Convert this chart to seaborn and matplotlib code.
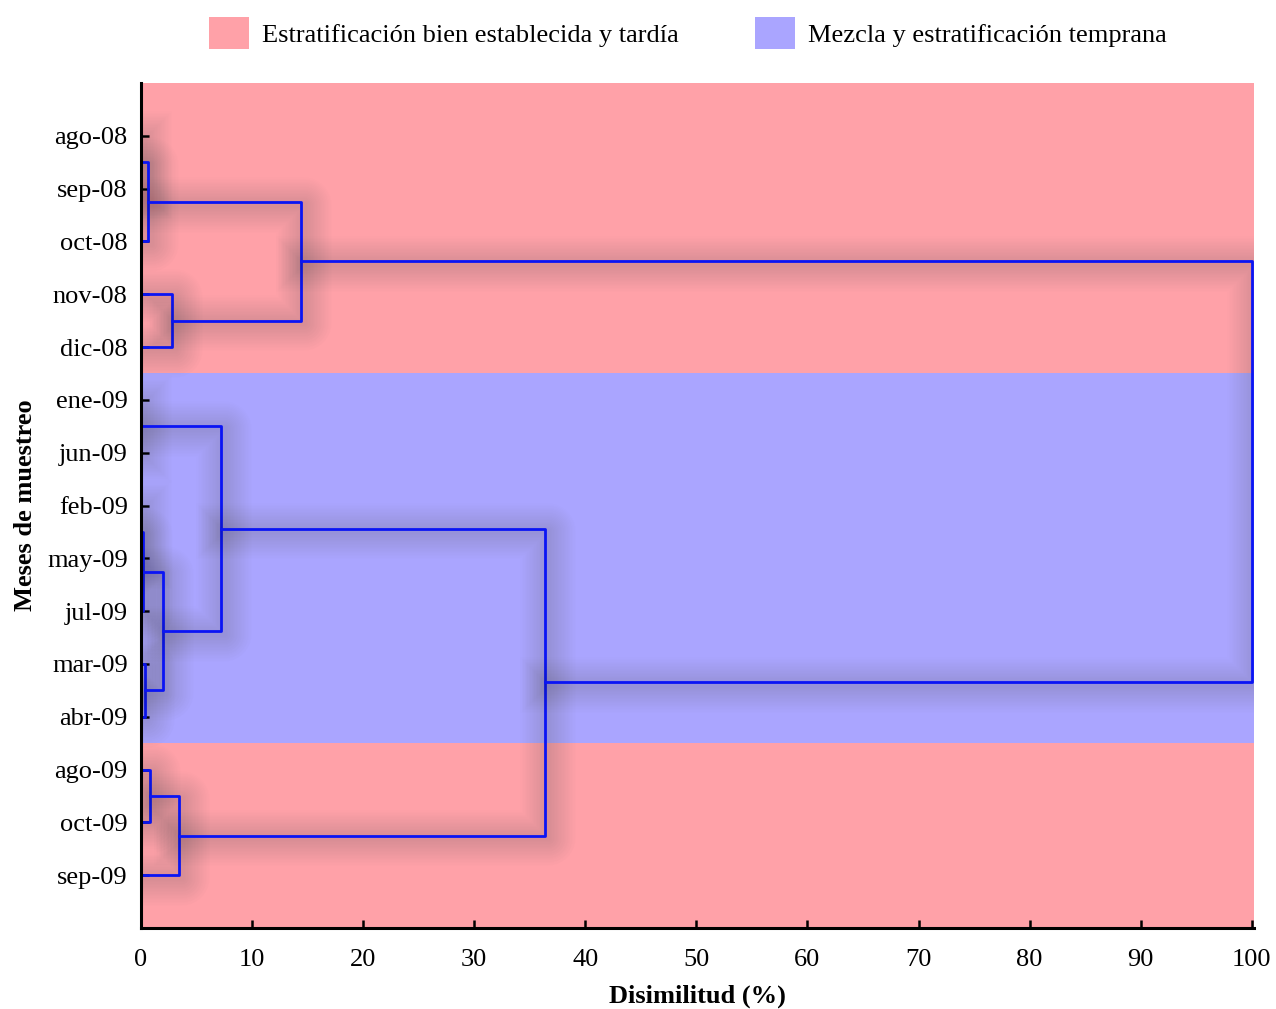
import numpy as np
import pandas as pd
import matplotlib
matplotlib.use("Agg")
import matplotlib.pyplot as plt
import matplotlib.patheffects as pe
from matplotlib.patches import Patch
import seaborn as sns

# ---- data ----
leaves = ["ago-08", "sep-08", "oct-08", "nov-08", "dic-08", "ene-09", "jun-09",
          "feb-09", "may-09", "jul-09", "mar-09", "abr-09", "ago-09", "oct-09", "sep-09"]
# linkage: (child a, child b, dissimilarity %) ; new clusters numbered from len(leaves)
link_a = [0, 15, 3, 16, 5, 7, 20, 10, 21, 19, 12, 25, 24, 18]
link_b = [1, 2, 4, 17, 6, 8, 9, 11, 22, 23, 13, 14, 26, 27]
link_h = [0.0, 0.65, 2.8, 14.4, 0.0, 0.0, 0.15, 0.33, 2.0, 7.2, 0.8, 3.4, 36.4, 100.0]
group_names = ["Estratificación bien establecida y tardía", "Mezcla y estratificación temprana"]
group_colors = ["#FFA1A8", "#AAA5FF"]
# bands: (first leaf index, last leaf index, group)
band_start = [0, 5, 12]
band_end = [4, 11, 14]
band_group = [0, 1, 0]
xticks = list(range(0, 101, 10))

# ---- build dendrogram segments ----
n = len(leaves)
pos = {i: i + 1 for i in range(n)}
hgt = {i: 0.0 for i in range(n)}
rows = []
for k, (a, b, h) in enumerate(zip(link_a, link_b, link_h)):
    ya, yb = pos[a], pos[b]
    xa, xb = hgt[a], hgt[b]
    for j, (x, y) in enumerate([(xa, ya), (h, ya), (h, yb), (xb, yb)]):
        rows.append({"link": k, "order": j, "x": x, "y": y})
    pos[n + k] = (ya + yb) / 2
    hgt[n + k] = h
df = pd.DataFrame(rows)

sns.set_theme(style="ticks")
plt.rcParams["font.family"] = ["Liberation Serif", "DejaVu Serif"]
plt.rcParams["text.color"] = "black"
plt.rcParams["axes.labelcolor"] = "black"

fig = plt.figure(figsize=(12.76, 10.09), dpi=100)
ax = fig.add_axes([141 / 1276, 1 - 928 / 1009, (1254 - 141) / 1276, (928 - 83) / 1009])

# background bands
for s, e, g in zip(band_start, band_end, band_group):
    lo = s + 1 - 0.5 if s > 0 else 0
    hi = e + 1 + 0.5 if e < n - 1 else n + 1
    ax.axhspan(lo, hi, color=group_colors[g], lw=0, zorder=0)

sns.lineplot(data=df, x="x", y="y", units="link", estimator=None, sort=False,
             color="#0A14F5", linewidth=2.0, ax=ax, zorder=3)
shadow = [pe.SimpleLineShadow(offset=(2, -2), shadow_color="#3a2a40", alpha=0.009, linewidth=w)
          for w in range(4, 42, 2)]
for line in ax.get_lines():
    line.set_path_effects(shadow + [pe.Normal()])
    line.set_solid_capstyle("projecting")
    line.set_solid_joinstyle("round")

ax.set_xlim(0, 100.2)
ax.set_ylim(n + 1, 0)
ax.set_yticks(range(1, n + 1))
ax.set_yticklabels(leaves)
ax.set_xticks(xticks)
ax.set_xticklabels([str(t) for t in xticks])
ax.tick_params(axis="both", direction="in", length=6, width=1.8, colors="black",
               labelsize=19)
ax.tick_params(axis="x", pad=15)
ax.tick_params(axis="y", pad=9.5)
for s in ("top", "right"):
    ax.spines[s].set_visible(False)
for s in ("left", "bottom"):
    ax.spines[s].set_linewidth(2.2)
    ax.spines[s].set_color("black")
    ax.spines[s].set_zorder(5)

ax.set_xlabel("Disimilitud (%)", fontsize=19, fontweight="bold", labelpad=10)
ax.set_ylabel("Meses de muestreo", fontsize=19, fontweight="bold", labelpad=7.5)

handles = [Patch(facecolor=c, edgecolor="none") for c in group_colors]
fig.legend(handles, group_names, loc="center", bbox_to_anchor=(688 / 1276, 1 - 33 / 1009),
           ncol=2, frameon=False, fontsize=19, handlelength=1.5, handleheight=1.5,
           handletextpad=0.5, columnspacing=2.9)

fig.savefig("out.png", dpi=100)
